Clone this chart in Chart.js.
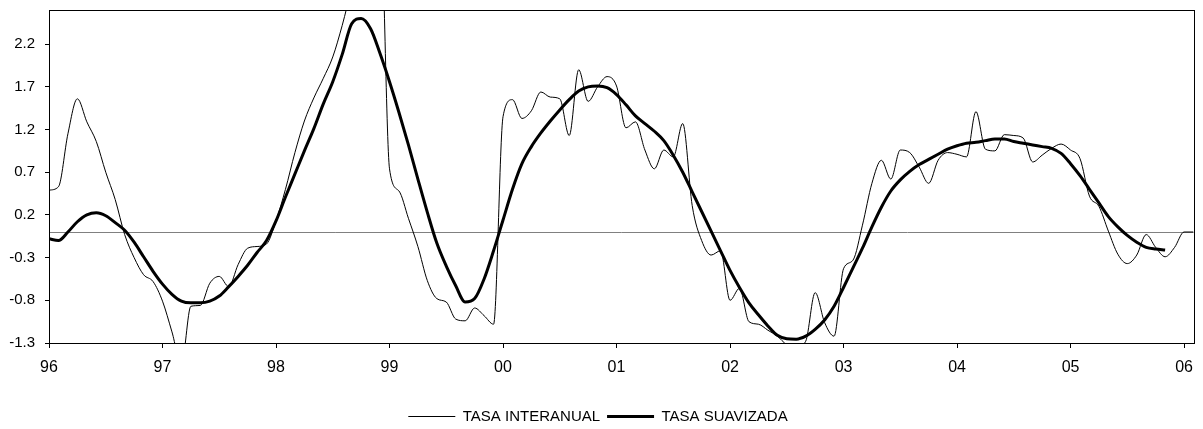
<!DOCTYPE html>
<html>
<head>
<meta charset="utf-8">
<title>Tasa interanual y tasa suavizada</title>
<script src="https://cdn.jsdelivr.net/npm/chart.js@4.4.1/dist/chart.umd.min.js"></script>
<style>
  html, body { margin: 0; padding: 0; background: #fff; }
</style>
</head>
<body>
<canvas id="grafico" width="1203" height="429"></canvas>
<script>
// meses desde ene-96, un valor por mes
var etiquetasAnio = ['96', '97', '98', '99', '00', '01', '02', '03', '04', '05', '06'];
var ticksY = [-1.3, -0.8, -0.3, 0.2, 0.7, 1.2, 1.7, 2.2];

var tasaInteranual = [
  0.49, 0.53, 1.15, 1.56, 1.29, 1.06, 0.70, 0.38, -0.03, -0.30,
  -0.50, -0.58, -0.81, -1.17, -1.55, -0.87, -0.86, -0.60, -0.52, -0.64,
  -0.38, -0.19, -0.17, -0.14, 0.13, 0.50, 0.93, 1.30, 1.57, 1.80,
  2.05, 2.42, 2.85, 3.20, 3.50, 3.80, 0.74, 0.48, 0.16, -0.17,
  -0.57, -0.78, -0.82, -1.02, -1.04, -0.89, -0.98, -1.08, 1.35, 1.55,
  1.33, 1.42, 1.64, 1.58, 1.56, 1.13, 1.90, 1.53, 1.70, 1.82,
  1.71, 1.22, 1.29, 0.96, 0.74, 0.96, 0.88, 1.27, 0.31, -0.10,
  -0.27, -0.22, -0.80, -0.66, -1.05, -1.08, -1.15, -1.22, -1.32, -1.35,
  -1.28, -0.71, -1.06, -1.22, -0.43, -0.33, 0.08, 0.57, 0.84, 0.62,
  0.96, 0.93, 0.76, 0.57, 0.84, 0.93, 0.91, 0.88, 1.41, 0.97,
  0.95, 1.14, 1.13, 1.10, 0.82, 0.90, 0.98, 1.03, 0.96, 0.86,
  0.42, 0.30, 0.01, -0.26, -0.37, -0.27, -0.03, -0.18, -0.29, -0.18,
  0.00, 0.00
];

var tasaSuavizada = [
  -0.08, -0.10, 0.00, 0.12, 0.20, 0.225, 0.19, 0.11, 0.02, -0.12,
  -0.29, -0.46, -0.61, -0.73, -0.81, -0.83, -0.83, -0.81, -0.75, -0.64,
  -0.52, -0.39, -0.24, -0.10, 0.13, 0.41, 0.68, 0.95, 1.21, 1.50,
  1.76, 2.08, 2.44, 2.50, 2.38, 2.09, 1.76, 1.40, 1.02, 0.62,
  0.23, -0.13, -0.40, -0.63, -0.82, -0.78, -0.55, -0.22, 0.14, 0.50,
  0.80, 1.00, 1.16, 1.30, 1.43, 1.55, 1.65, 1.70, 1.71, 1.69,
  1.61, 1.49, 1.36, 1.27, 1.18, 1.07, 0.90, 0.70, 0.47, 0.24,
  0.01, -0.22, -0.45, -0.65, -0.83, -0.97, -1.10, -1.21, -1.25, -1.255,
  -1.22, -1.14, -1.03, -0.87, -0.65, -0.42, -0.19, 0.06, 0.29, 0.48,
  0.61, 0.71, 0.79, 0.85, 0.91, 0.97, 1.01, 1.04, 1.05, 1.07,
  1.09, 1.09, 1.06, 1.04, 1.02, 1.00, 0.98, 0.92, 0.80, 0.66,
  0.50, 0.34, 0.18, 0.06, -0.04, -0.12, -0.18, -0.20, -0.21
];

function aPuntos(serie) {
  return serie.map(function(v, i) { return { x: i, y: v }; });
}

var fuente = "'Liberation Sans', Arial, sans-serif";

// linea del cero y recuadro del area de trazado
var marco = {
  id: 'marco',
  beforeDatasetsDraw: function(chart) {
    var ctx = chart.ctx;
    var area = chart.chartArea;
    var y0 = Math.round(chart.scales.y.getPixelForValue(0)) + 0.5;
    ctx.save();
    ctx.strokeStyle = '#808080';
    ctx.lineWidth = 1;
    ctx.beginPath();
    ctx.moveTo(area.left, y0);
    ctx.lineTo(area.right, y0);
    ctx.stroke();
    ctx.restore();
  },
  afterDraw: function(chart) {
    var ctx = chart.ctx;
    var area = chart.chartArea;
    ctx.save();
    ctx.strokeStyle = '#000';
    ctx.lineWidth = 1;
    ctx.strokeRect(Math.round(area.left) + 0.5, Math.round(area.top) + 0.5,
      Math.round(area.right - area.left), Math.round(area.bottom - area.top));
    ctx.restore();
  }
};

var grafico = new Chart(document.getElementById('grafico').getContext('2d'), {
  type: 'line',
  data: {
    datasets: [{
      label: 'TASA INTERANUAL',
      data: aPuntos(tasaInteranual),
      borderColor: '#000',
      backgroundColor: '#000',
      borderWidth: 1,
      pointRadius: 0,
      cubicInterpolationMode: 'monotone'
    }, {
      label: 'TASA SUAVIZADA',
      data: aPuntos(tasaSuavizada),
      borderColor: '#000',
      backgroundColor: '#000',
      borderWidth: 3,
      pointRadius: 0,
      cubicInterpolationMode: 'monotone'
    }]
  },
  options: {
    responsive: false,
    animation: false,
    layout: { padding: { top: 10, right: 7, left: 0, bottom: -5 } },
    plugins: {
      tooltip: { enabled: false },
      legend: {
        position: 'bottom',
        labels: {
          usePointStyle: true,
          pointStyle: 'line',
          pointStyleWidth: 47,
          padding: 7,
          color: '#000',
          font: { family: fuente, size: 15 }
        }
      }
    },
    scales: {
      x: {
        type: 'linear',
        min: 0,
        max: 121,
        afterBuildTicks: function(scale) {
          scale.ticks = etiquetasAnio.map(function(e, i) { return { value: i * 12 }; });
        },
        afterFit: function(scale) { scale.height = 59; },
        grid: { drawOnChartArea: false, drawTicks: true, tickLength: 5, color: '#000' },
        border: { display: true, color: '#000' },
        ticks: {
          padding: 10,
          maxRotation: 0,
          autoSkip: false,
          color: '#000',
          font: { family: fuente, size: 16 },
          callback: function(v) { return etiquetasAnio[Math.round(v / 12)]; }
        }
      },
      y: {
        min: -1.3,
        max: 2.6,
        afterBuildTicks: function(scale) {
          scale.ticks = ticksY.map(function(v) { return { value: v }; });
        },
        afterFit: function(scale) {
          scale.width = 49;
          scale.paddingTop = 0;
          scale.paddingBottom = 0;
        },
        grid: { drawOnChartArea: false, drawTicks: true, tickLength: 4, color: '#000' },
        border: { display: true, color: '#000' },
        ticks: {
          padding: 10,
          autoSkip: false,
          color: '#000',
          font: { family: fuente, size: 15 },
          callback: function(v) { return v.toFixed(1); }
        }
      }
    }
  },
  plugins: [marco]
});
</script>
</body>
</html>
